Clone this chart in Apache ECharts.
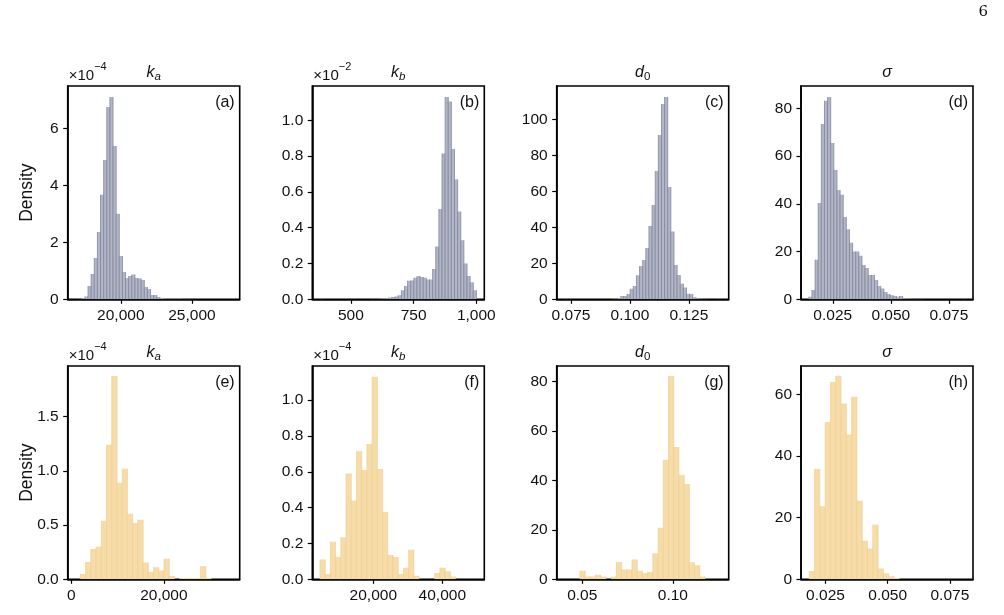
<!DOCTYPE html>
<html><head><meta charset="utf-8">
<script src="https://cdn.jsdelivr.net/npm/echarts@6/dist/echarts.min.js"></script>
<style>html,body{margin:0;padding:0;background:#fff}#c{width:1004px;height:615px}</style>
</head><body><div id="c"></div>
<script>
// ---------- DATA (densities as displayed, i.e. after axis scale factor) ----------
// (a) k_a posterior, density x1e-4, 50 bins
const binStartA = 16818, binWidthA = 219.8;
const densA = [0.005,0.01,0.05,0.1,0.47,0.89,1.45,2.36,3.67,4.89,6.75,7.10,5.38,3.0,1.52,0.96,0.75,0.82,0.87,0.75,
  0.73,0.68,0.43,0.36,0.15,0.15,0.08,0.05,0.025,0.02,0.015,0.02,0.015,0.015,0.01,0.01,0.01,0.005,0,0,
  0,0,0,0,0,0,0,0,0,0.005];
// (b) k_b posterior, density x1e-2, 50 bins
const binStartB = 377, binWidthB = 12.47;
const densB = [0.001,0,0,0,0,0,0,0,0,0,0,0,0,0,0,0,0.001,0.002,0.002,0.003,
  0.004,0.006,0.01,0.013,0.016,0.022,0.05,0.075,0.104,0.105,0.12,0.13,0.125,0.12,0.11,0.11,0.17,0.295,0.505,0.815,
  1.13,1.105,0.84,0.67,0.49,0.33,0.20,0.13,0.095,0.05];
// (c) d_0 posterior, 50 bins
const binStartC = 0.07226, binWidthC = 0.0013266;
const densC = [0.1,0,0,0,0,0,0,0,0,0,0,0,0,0,0,0.3,0.3,0.7,1.85,1.85,
  3.0,5.9,7.4,13.3,18.5,21.9,28.5,40.7,52.4,71.3,91.3,108.5,112.4,62.4,37.6,19.1,13.5,8.7,6.5,3.1,
  3.0,1.2,0.4,0.3,0.2,0.1,0,0,0,0.1];
// (d) sigma posterior, 50 bins
const binStartD = 0.01469, binWidthD = 0.001347;
const densD = [1.1,3.9,16.6,40.3,73.4,83.2,84.7,65.5,54.2,45.8,43.8,34.5,29.3,23.7,20.0,20.0,18.2,14.4,13.1,10.2,
  10.2,8.1,5.6,4.5,3.1,2.2,1.7,1.4,1.1,1.4,0.3,0.2,0.2,0.1,0.1,0.1,0.1,0,0,0,
  0,0,0,0,0,0,0,0,0,0.1];
// (e) k_a, density x1e-4
const binStartE = 1949, binWidthE = 1130;
const densE = [0.05,0.16,0.28,0.30,0.54,1.24,1.875,0.89,1.02,0.605,0.52,0.55,0.155,0.07,0.11,0.08,0.19,0.03,0,0.012,
  0.012,0.012,0.012,0.12,0.012];
// (f) k_b, density x1e-4
const binStartF = 4541, binWidthF = 1512;
const densF = [0.11,0.03,0.21,0.125,0.235,0.59,0.44,0.715,0.61,0.755,1.13,0.615,0.375,0.135,0.125,0.03,0.065,0.165,0.02,0,
  0,0,0.035,0.065,0.045,0.015];
// (g) d_0
const binStartG = 0.04872, binWidthG = 0.002875;
const densG = [3.5,1.1,1.1,1.8,1.1,0,1.0,7.0,4.0,4.0,8.0,3.5,2.5,3.0,10.5,20.8,48.3,82.2,53.5,42.2,
  38.5,6.9,5.7,1.1];
// (h) sigma
const binStartH = 0.01848, binWidthH = 0.002128;
const densH = [2.7,35.8,23.7,51,64,66,57,47,59.2,25.5,12.5,10,17.7,3.5,2.0,1.0,0.4];

// tick values and labels
const xTicksA = [20000,25000], xLabelsA = ['20,000','25,000'];
const yTicksA = [0,2,4,6],     yLabelsA = ['0','2','4','6'];
const xTicksB = [500,750,1000], xLabelsB = ['500','750','1,000'];
const yTicksB = [0,0.2,0.4,0.6,0.8,1.0], yLabelsB = ['0.0','0.2','0.4','0.6','0.8','1.0'];
const xTicksC = [0.075,0.1,0.125], xLabelsC = ['0.075','0.100','0.125'];
const yTicksC = [0,20,40,60,80,100], yLabelsC = ['0','20','40','60','80','100'];
const xTicksD = [0.025,0.05,0.075], xLabelsD = ['0.025','0.050','0.075'];
const yTicksD = [0,20,40,60,80], yLabelsD = ['0','20','40','60','80'];
const xTicksE = [0,20000], xLabelsE = ['0','20,000'];
const yTicksE = [0,0.5,1.0,1.5], yLabelsE = ['0.0','0.5','1.0','1.5'];
const xTicksF = [20000,40000], xLabelsF = ['20,000','40,000'];
const yTicksF = [0,0.2,0.4,0.6,0.8,1.0], yLabelsF = ['0.0','0.2','0.4','0.6','0.8','1.0'];
const xTicksG = [0.05,0.1], xLabelsG = ['0.05','0.10'];
const yTicksG = [0,20,40,60,80], yLabelsG = ['0','20','40','60','80'];
const xTicksH = [0.025,0.05,0.075], xLabelsH = ['0.025','0.050','0.075'];
const yTicksH = [0,20,40,60], yLabelsH = ['0','20','40','60'];

const panelLetters = ['(a)','(b)','(c)','(d)','(e)','(f)','(g)','(h)'];
const paramNames = ['ka','kb','d0','sigma','ka','kb','d0','sigma'];
const scaleExp = ['−4','−2',null,null,'−4','−4',null,null];

// ---------- LAYOUT / STYLE ----------
const FONT = 'Liberation Sans, Arial, sans-serif';
const lefts = [67.7, 312.3, 556.7, 801.0];
const tops = [86, 366];
const GW = 172, GH = 213.3;

const panels = [
  {start:binStartA,width:binWidthA,dens:densA,xr:[16268,28357],yr:[0,7.49],xt:xTicksA,xl:xLabelsA,yt:yTicksA,yl:yLabelsA},
  {start:binStartB,width:binWidthB,dens:densB,xr:[346,1032],yr:[0,1.192],xt:xTicksB,xl:xLabelsB,yt:yTicksB,yl:yLabelsB},
  {start:binStartC,width:binWidthC,dens:densC,xr:[0.06894,0.1419],yr:[0,118.5],xt:xTicksC,xl:xLabelsC,yt:yTicksC,yl:yLabelsC},
  {start:binStartD,width:binWidthD,dens:densD,xr:[0.01132,0.0854],yr:[0,89.35],xt:xTicksD,xl:xLabelsD,yt:yTicksD,yl:yLabelsD},
  {start:binStartE,width:binWidthE,dens:densE,xr:[-794,36390],yr:[0,1.967],xt:xTicksE,xl:xLabelsE,yt:yTicksE,yl:yLabelsE},
  {start:binStartF,width:binWidthF,dens:densF,xr:[2319,52174],yr:[0,1.19],xt:xTicksF,xl:xLabelsF,yt:yTicksF,yl:yLabelsF},
  {start:binStartG,width:binWidthG,dens:densG,xr:[0.0359,0.1308],yr:[0,86.2],xt:xTicksG,xl:xLabelsG,yt:yTicksG,yl:yLabelsG},
  {start:binStartH,width:binWidthH,dens:densH,xr:[0.01516,0.0843],yr:[0,69.2],xt:xTicksH,xl:xLabelsH,yt:yTicksH,yl:yLabelsH}
];

const topFill = '#b2b6c5', topEdge = '#80879f';
const botFill = '#f5dca9', botEdge = '#f0d08f';

function lookup(ticks, labels){
  return function(v){
    for (let i=0;i<ticks.length;i++) if (Math.abs(ticks[i]-v) < 1e-9*Math.max(1,Math.abs(v))+1e-12) return labels[i];
    return '';
  };
}
function makeRender(fill, edge, lw){
  return function(params, api){
    const x0 = api.value(0), x1 = api.value(1), y = api.value(2);
    if (!(y > 0)) return null;
    const p0 = api.coord([x0, y]), p1 = api.coord([x1, 0]);
    const w = p1[0]-p0[0], h = p1[1]-p0[1];
    return {type:'group', children:[
      {type:'rect', shape:{x:p0[0], y:p0[1], width:w, height:h}, style:{fill:fill}},
      {type:'line', shape:{x1:p0[0], y1:p0[1], x2:p0[0], y2:p1[1]}, style:{stroke:edge, lineWidth:lw}},
      {type:'line', shape:{x1:p1[0], y1:p0[1], x2:p1[0], y2:p1[1]}, style:{stroke:edge, lineWidth:lw}}
    ]};
  };
}

const grids=[], xAxes=[], yAxes=[], series=[], graphics=[];
const titleRich = {
  it:{fontStyle:'italic', fontSize:16, fontFamily:FONT, fill:'#111', lineHeight:20},
  sub:{fontStyle:'italic', fontSize:11.5, fontFamily:FONT, fill:'#111', verticalAlign:'bottom', lineHeight:20},
  subr:{fontSize:11.5, fontFamily:FONT, fill:'#111', verticalAlign:'bottom', lineHeight:20}
};
const titleText = {ka:'{it|k}{sub|a}', kb:'{it|k}{sub|b}', d0:'{it|d}{subr|0}', sigma:'{it|σ}'};

panels.forEach((p, i) => {
  const row = Math.floor(i/4), col = i%4;
  const L = lefts[col], T = tops[row];
  grids.push({left:L, top:T, width:GW, height:GH, show:true, borderColor:'#000', borderWidth:1.6, backgroundColor:'transparent'});
  xAxes.push({type:'value', gridIndex:i, min:p.xr[0], max:p.xr[1],
    axisLine:{show:true, onZero:false, lineStyle:{color:'#000', width:1.6}},
    axisTick:{show:true, length:4.5, customValues:p.xt, lineStyle:{color:'#000', width:1.2}},
    axisLabel:{customValues:p.xt, formatter:lookup(p.xt,p.xl), fontSize:15.5, fontFamily:FONT, color:'#111', margin:8},
    splitLine:{show:false}});
  yAxes.push({type:'value', gridIndex:i, min:p.yr[0], max:p.yr[1],
    axisLine:{show:true, onZero:false, lineStyle:{color:'#000', width:1.6}},
    axisTick:{show:true, length:4.5, customValues:p.yt, lineStyle:{color:'#000', width:1.2}},
    axisLabel:{customValues:p.yt, formatter:lookup(p.yt,p.yl), fontSize:15.5, fontFamily:FONT, color:'#111', margin:9},
    splitLine:{show:false}});
  const data = p.dens.map((d,k) => [p.start + k*p.width, p.start + (k+1)*p.width, d]);
  series.push({type:'custom', xAxisIndex:i, yAxisIndex:i, clip:true,
    renderItem: makeRender(row===0?topFill:botFill, row===0?topEdge:botEdge, row===0?0.8:0.7),
    encode:{x:[0,1], y:2}, data:data, silent:true, animation:false});
  // panel letter
  graphics.push({type:'text', x:L+GW-5, y:T+9, style:{text:panelLetters[i], font:'16px '+FONT, fill:'#111', align:'right', verticalAlign:'top'}});
  // title
  graphics.push({type:'text', x:L+GW/2, y:T-3, style:{text:titleText[paramNames[i]], rich:titleRich, fill:'#111', align:'center', verticalAlign:'bottom'}});
  // scale factor
  if (scaleExp[i]) {
    graphics.push({type:'text', x:L+1, y:T-3, style:{text:'{b|×10}{s|'+scaleExp[i]+'}', fill:'#111', align:'left', verticalAlign:'bottom',
      rich:{b:{fontSize:15, fontFamily:FONT, fill:'#111', lineHeight:22, verticalAlign:'bottom'}, s:{fontSize:11, fontFamily:FONT, fill:'#111', lineHeight:22, verticalAlign:'top'}}}});
  }
  if (col===0) {
    graphics.push({type:'text', x:27, y:T+GH/2, rotation:Math.PI/2, style:{text:'Density', font:'17.5px '+FONT, fill:'#111', align:'center', verticalAlign:'middle'}});
  }
});
graphics.push({type:'text', x:988, y:5, style:{text:'6', font:'15px "DejaVu Serif", "Liberation Serif", serif', fill:'#111', align:'right', verticalAlign:'top'}});

const chart = echarts.init(document.getElementById('c'), null, {renderer:'canvas'});
chart.setOption({animation:false, backgroundColor:'#fff', grid:grids, xAxis:xAxes, yAxis:yAxes, series:series, graphic:graphics});
</script></body></html>
